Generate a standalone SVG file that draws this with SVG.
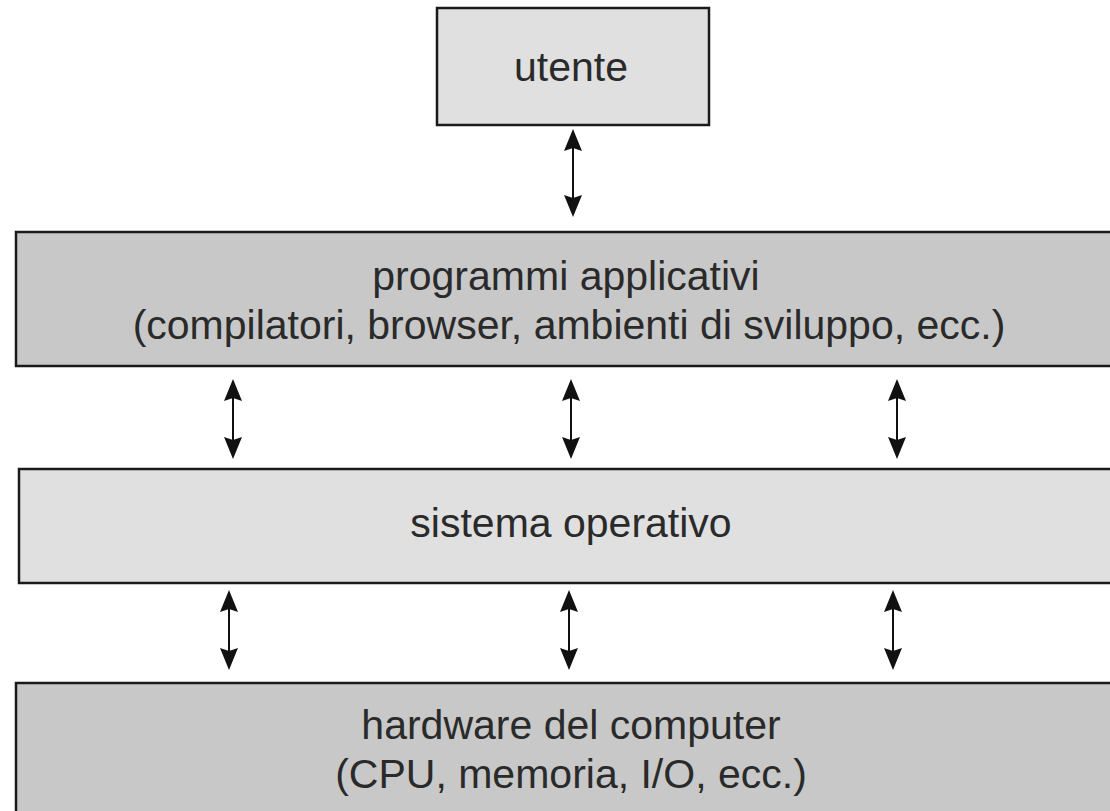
<svg xmlns="http://www.w3.org/2000/svg" width="1110" height="811" viewBox="0 0 1110 811">
<style>
.box{stroke:#1a1a1a;stroke-width:2.5}
.dark{fill:#c8c8c8}
.light{fill:#e0e0e0}
.lbl{font-family:"Liberation Sans",Arial,sans-serif;font-size:41px;fill:#2a2a2a;text-anchor:middle}
.shaft{stroke:#111;stroke-width:2;fill:none}
.head{fill:#111}
</style>
<defs>
<g id="dbl">
<line class="shaft" x1="0" y1="10" x2="0" y2="70"/>
<path class="head" d="M0,0 L9,22 L0,19 L-9,22 Z"/>
<path class="head" d="M0,80 L9,58 L0,61 L-9,58 Z"/>
</g>
</defs>
<rect width="1110" height="811" fill="#fff"/>
<g id="utente">
<rect class="box light" x="437" y="8" width="272" height="117"/>
<text class="lbl" x="571" y="81">utente</text>
</g>
<g id="programmi">
<rect class="box dark" x="16" y="232" width="1110" height="134"/>
<text class="lbl" x="566" y="290">programmi applicativi</text>
<text class="lbl" x="569" y="339">(compilatori, browser, ambienti di sviluppo, ecc.)</text>
</g>
<g id="sistema">
<rect class="box light" x="19" y="469" width="1110" height="114"/>
<text class="lbl" x="571" y="537">sistema operativo</text>
</g>
<g id="hardware">
<rect class="box dark" x="16" y="683" width="1110" height="140"/>
<text class="lbl" x="571" y="739">hardware del computer</text>
<text class="lbl" x="571" y="788">(CPU, memoria, I/O, ecc.)</text>
</g>
<g id="connectors">
<line class="shaft" x1="573" y1="140" x2="573" y2="206"/>
<path class="head" d="M573,129 L582,151 L573,148 L564,151 Z"/>
<path class="head" d="M573,217 L582,195 L573,198 L564,195 Z"/>
<use href="#dbl" x="233" y="379"/>
<use href="#dbl" x="571" y="379"/>
<use href="#dbl" x="897" y="379"/>
<use href="#dbl" x="229" y="590"/>
<use href="#dbl" x="569" y="590"/>
<use href="#dbl" x="893" y="590"/>
</g>
</svg>
